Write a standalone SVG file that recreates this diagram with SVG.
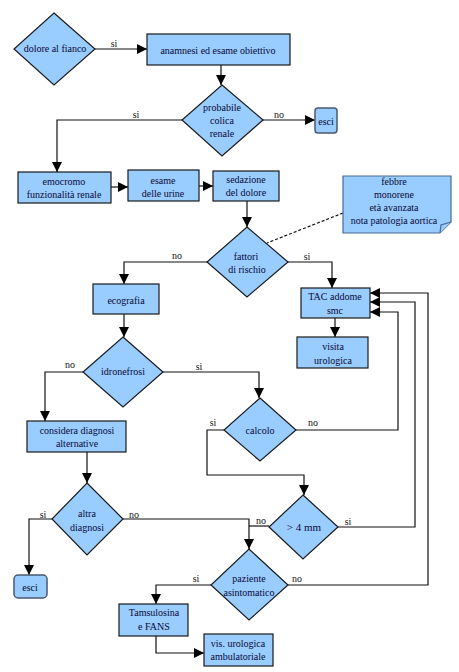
<svg xmlns="http://www.w3.org/2000/svg" width="459" height="672" viewBox="0 0 459 672" font-family="'Liberation Serif', 'DejaVu Serif', serif">
<defs>
<marker id="ah" markerUnits="userSpaceOnUse" markerWidth="10" markerHeight="10" refX="10" refY="5" orient="auto">
<path d="M0,0 L10,5 L0,10 z" fill="#000"/>
</marker>
<style>
.n{fill:#99ccff;stroke:#1a1a1a;stroke-width:1.2}
.x{fill:#99ccff;stroke:#4a5a70;stroke-width:1.5}
.note{fill:#99ccff;stroke:#4a6a90;stroke-width:1.2}
text{font-family:'Liberation Serif','DejaVu Serif',serif;font-size:10px;fill:#0a0a35;text-anchor:middle}
.l{fill:#111}
.c{fill:none;stroke:#111;stroke-width:1.2}
.a{marker-end:url(#ah)}
.d{fill:none;stroke:#111;stroke-width:1.2;stroke-dasharray:3,2}
</style>
</defs>
<rect width="459" height="672" fill="#fff"/>
<g id="connectors">
<path class="c a" d="M95,49 H147"/>
<path class="c a" d="M221,65 V85"/>
<path class="c a" d="M263,120 H315"/>
<path class="c a" d="M182,120 H57 V172"/>
<path class="c a" d="M111,187 H128"/>
<path class="c a" d="M199,186 H213"/>
<path class="c a" d="M247,201 V227"/>
<path class="d" d="M343,213 L267,243"/>
<path class="c a" d="M207,262 H124 V284"/>
<path class="c a" d="M288,262 H332 V288"/>
<path class="c a" d="M335,318 V337"/>
<path class="c a" d="M124,314 V337"/>
<path class="c a" d="M163,372 H259 V398"/>
<path class="c a" d="M83,372 H45 V421"/>
<path class="c a" d="M296,430 H398 V312 H370"/>
<path class="c a" d="M224,430 H207 V475 H304 V495"/>
<path class="c a" d="M87,452 V483"/>
<path class="c a" d="M52,519 H29 V575"/>
<path class="c a" d="M123,519 H249 V549"/>
<path class="c" d="M269,526 H249"/>
<path class="c a" d="M338,527 H415 V302 H370"/>
<path class="c a" d="M288,585 H428 V293 H370"/>
<path class="c a" d="M211,585 H156 V604"/>
<path class="c a" d="M156,636 V653 H204"/>
</g>
<g id="labels">
<text class="l" x="114" y="47">si</text>
<text class="l" x="136" y="118">si</text>
<text class="l" x="279" y="118">no</text>
<text class="l" x="177" y="259">no</text>
<text class="l" x="307" y="260">si</text>
<text class="l" x="70" y="368">no</text>
<text class="l" x="199" y="370">si</text>
<text class="l" x="213" y="426">si</text>
<text class="l" x="313" y="426">no</text>
<text class="l" x="43" y="518">si</text>
<text class="l" x="134" y="518">no</text>
<text class="l" x="261" y="524">no</text>
<text class="l" x="348" y="525">si</text>
<text class="l" x="196" y="582">si</text>
<text class="l" x="297" y="582">no</text>
</g>
<g id="n-dolore"><path class="n" d="M54,13 L95,49 L54,85 L14,49 z"/><text x="55" y="52">dolore al fianco</text></g>
<g id="n-anamnesi"><rect class="n" x="147" y="34" width="143" height="31"/><text x="218" y="54">anamnesi ed esame obiettivo</text></g>
<g id="n-probabile"><path class="n" d="M222,85 L263,120 L222,156 L182,120 z"/><text x="222" y="111">probabile</text><text x="222" y="124">colica</text><text x="222" y="137">renale</text></g>
<g id="n-esci1"><rect class="x" x="315" y="108" width="22" height="25" rx="3"/><text x="326" y="125">esci</text></g>
<g id="n-emocromo"><rect class="n" x="18" y="172" width="93" height="31"/><text x="64" y="185">emocromo</text><text x="64" y="198">funzionalità renale</text></g>
<g id="n-esame"><rect class="n" x="128" y="170" width="71" height="31"/><text x="163" y="184">esame</text><text x="163" y="197">delle urine</text></g>
<g id="n-sedazione"><rect class="n" x="213" y="171" width="66" height="30"/><text x="246" y="183">sedazione</text><text x="246" y="196">del dolore</text></g>
<g id="n-note"><path class="note" d="M343,176 H451 V222 L440,233 H343 z"/><path class="note" d="M451,222 L441,225 L440,233"/><text x="394" y="185">febbre</text><text x="394" y="198">monorene</text><text x="394" y="211">età avanzata</text><text x="394" y="224">nota patologia aortica</text></g>
<g id="n-fattori"><path class="n" d="M247,227 L288,262 L247,297 L207,262 z"/><text x="246" y="260">fattori</text><text x="247" y="273">di rischio</text></g>
<g id="n-ecografia"><rect class="n" x="93" y="284" width="66" height="30"/><text x="126" y="304">ecografia</text></g>
<g id="n-tac"><rect class="n" x="301" y="288" width="69" height="30"/><text x="335" y="300">TAC addome</text><text x="335" y="314">smc</text></g>
<g id="n-visita"><rect class="n" x="297" y="337" width="71" height="31"/><text x="333" y="350">visita</text><text x="333" y="364">urologica</text></g>
<g id="n-idronefrosi"><path class="n" d="M123,337 L163,372 L123,407 L83,372 z"/><text x="123" y="375">idronefrosi</text></g>
<g id="n-calcolo"><path class="n" d="M260,398 L296,430 L260,461 L224,430 z"/><text x="260" y="434">calcolo</text></g>
<g id="n-considera"><rect class="n" x="27" y="421" width="99" height="31"/><text x="77" y="434">considera diagnosi</text><text x="77" y="447">alternative</text></g>
<g id="n-altra"><path class="n" d="M87,483 L123,519 L87,555 L52,519 z"/><text x="87" y="517">altra</text><text x="87" y="531">diagnosi</text></g>
<g id="n-4mm"><path class="n" d="M303,495 L338,527 L303,559 L269,527 z"/><text x="304" y="531" style="font-size:11px">&gt; 4 mm</text></g>
<g id="n-esci2"><rect class="x" x="14" y="575" width="33" height="23" rx="4"/><text x="30" y="591">esci</text></g>
<g id="n-paziente"><path class="n" d="M249,549 L288,585 L249,620 L211,585 z"/><text x="249" y="582">paziente</text><text x="249" y="596">asintomatico</text></g>
<g id="n-tamsulosina"><rect class="n" x="119" y="604" width="69" height="32"/><text x="154" y="616">Tamsulosina</text><text x="154" y="630">e FANS</text></g>
<g id="n-vis"><rect class="n" x="204" y="634" width="69" height="32"/><text x="238" y="647">vis. urologica</text><text x="238" y="660">ambulatoriale</text></g>
</svg>
